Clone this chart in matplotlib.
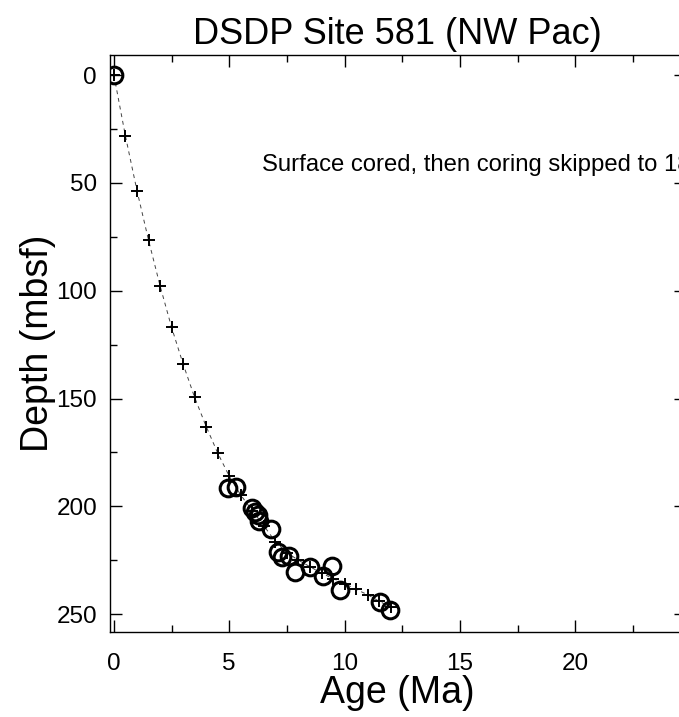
import numpy as np
import matplotlib
matplotlib.use("Agg")
import matplotlib.pyplot as plt
from matplotlib.ticker import MultipleLocator

plt.rcParams['font.family'] = ['Liberation Sans', 'DejaVu Sans']

# age model points (every 0.5 Ma)
model_age = [0.0, 0.5, 1.0, 1.5, 2.0, 2.5, 3.0, 3.5, 4.0, 4.5, 5.0, 5.5, 6.0,
             6.5, 7.0, 7.5, 8.0, 8.5, 9.0, 9.5, 10.0, 10.5, 11.0, 11.5, 12.0]
model_depth = [0.0, 28.3, 53.6, 76.5, 97.7, 117.0, 134.0, 149.5, 163.0, 175.3,
               186.0, 194.8, 202.0, 209.0, 216.4, 221.5, 225.0, 228.0, 231.0,
               233.5, 235.8, 238.5, 241.0, 244.0, 246.8]

# biostratigraphic / magnetostratigraphic datums
datum_age = [0.0, 4.95, 5.29, 5.97, 6.11, 6.26, 6.30, 6.83, 7.12, 7.30,
             7.60, 7.85, 8.50, 9.07, 9.45, 9.82, 11.53, 11.98]
datum_depth = [0.0, 191.7, 191.0, 201.0, 202.5, 204.0, 207.0, 210.4, 221.0,
               223.4, 222.9, 230.4, 228.0, 232.5, 227.6, 238.9, 244.3, 248.1]

fig = plt.figure(figsize=(6.79, 7.17), dpi=100)
ax = fig.add_axes([0.1613, 0.1185, 0.849, 0.8048])

ax.plot(model_age, model_depth, color='#444444', lw=0.7, ls=(0, (4, 4)), zorder=1)
ax.plot(model_age, model_depth, ls='none', marker='+', ms=8.5, mew=1.4,
        color='black', zorder=3)
ax.plot(datum_age, datum_depth, ls='none', marker='o', ms=12, mew=2.2,
        mfc='none', mec='black', zorder=2)

# runs off the right edge, as in the original figure
ax.text(6.42, 41.8, 'Surface cored, then coring skipped to 186 mbsf',
        fontsize=17.2, va='center', ha='left')

ax.set_xlim(-0.19, 24.8)
ax.set_ylim(258.3, -9.3)
ax.xaxis.set_major_locator(MultipleLocator(5))
ax.xaxis.set_minor_locator(MultipleLocator(2.5))
ax.yaxis.set_major_locator(MultipleLocator(50))
ax.yaxis.set_minor_locator(MultipleLocator(25))
ax.tick_params(which='both', direction='in', top=True, right=True,
               width=1, labelsize=17.5)
ax.tick_params(which='major', length=8.5)
ax.tick_params(which='minor', length=5)
ax.tick_params(axis='x', pad=15)
ax.tick_params(axis='y', pad=9)
for s in ax.spines.values():
    s.set_linewidth(1)

ax.set_title('DSDP Site 581 (NW Pac)', fontsize=26, pad=8)
ax.set_xlabel('Age (Ma)', fontsize=27, labelpad=0)
ax.set_ylabel('Depth (mbsf)', fontsize=27, labelpad=0)

fig.savefig('out.png', dpi=100)
